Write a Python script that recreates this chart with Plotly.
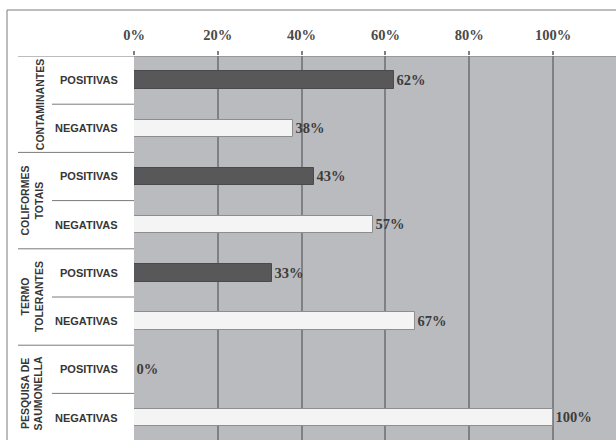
import plotly.graph_objects as go

# Data
groups = ["CONTAMINANTES", "COLIFORMES<br>TOTAIS", "TERMO<br>TOLERANTES", "PESQUISA DE<br>SAUMONELLA"]
results = ["POSITIVAS", "NEGATIVAS"]
values = [62, 38, 43, 57, 33, 67, 0, 100]
tick_values = [0, 20, 40, 60, 80, 100]
tick_labels = ["0%", "20%", "40%", "60%", "80%", "100%"]

W, H = 616, 440
PLOT_LEFT, PLOT_TOP = 134, 56
ROW_H = 48.2
n_rows = len(values)
rows = list(range(n_rows))
row_result = [results[i % 2] for i in rows]

DARK = "#58585a"
LIGHT = "#f4f4f4"
BG = "#babbbf"
GRID = "#7f8084"
TXT = "#363636"

px_per_pct = 4.19
x_max = (W - PLOT_LEFT) / px_per_pct
y_bottom = -0.5 + (H - PLOT_TOP) / ROW_H


def px(x):
    return x / W


def py(y):
    return 1 - y / H


fig = go.Figure()
fig.add_trace(go.Bar(
    x=values,
    y=rows,
    orientation="h",
    width=0.36,
    marker=dict(
        color=[DARK if r == "POSITIVAS" else LIGHT for r in row_result],
        line=dict(color=["#4a4a4c" if r == "POSITIVAS" else "#8e8e90" for r in row_result], width=1),
    ),
    text=[f"{v}%" for v in values],
    textposition="outside",
    cliponaxis=False,
    outsidetextfont=dict(family="Liberation Serif", size=14.5, color="#3c3c3c", weight="bold"),
    hoverinfo="skip",
))

fig.update_layout(
    width=W, height=H,
    margin=dict(l=0, r=0, t=0, b=0, autoexpand=False),
    paper_bgcolor="white",
    plot_bgcolor=BG,
    showlegend=False,
    bargap=0,
    xaxis=dict(
        domain=[px(PLOT_LEFT), 1],
        range=[0, x_max],
        side="top",
        automargin=False,
        tickvals=tick_values,
        ticktext=tick_labels,
        ticks="outside",
        ticklen=4,
        tickcolor=GRID,
        tickwidth=1.5,
        ticklabelstandoff=5,
        tickfont=dict(family="Liberation Serif", size=14.5, color="#4a4a4a", weight="bold"),
        showgrid=True,
        gridcolor=GRID,
        gridwidth=1.5,
        zeroline=False,
        showline=False,
        fixedrange=True,
    ),
    yaxis=dict(
        domain=[0, py(PLOT_TOP)],
        range=[y_bottom, -0.5],
        automargin=False,
        showticklabels=False,
        showgrid=False,
        zeroline=False,
        ticks="",
        fixedrange=True,
    ),
)

shapes = []
line_col = "#7a7a7a"
# outer frame (top and left)
shapes.append(dict(type="line", xref="paper", yref="paper", x0=px(7), x1=1, y0=py(10), y1=py(10),
                   line=dict(color=line_col, width=1)))
shapes.append(dict(type="line", xref="paper", yref="paper", x0=px(7), x1=px(7), y0=py(10), y1=0,
                   line=dict(color=line_col, width=1)))
# top edge of the table
shapes.append(dict(type="line", xref="paper", yref="y", x0=px(18), x1=1, y0=-0.5, y1=-0.5,
                   line=dict(color=line_col, width=1)))
# group separators
for g in range(1, len(groups)):
    yv = g * 2 - 0.5
    shapes.append(dict(type="line", xref="paper", yref="y", x0=px(18), x1=px(PLOT_LEFT), y0=yv, y1=yv,
                       line=dict(color=line_col, width=1)))
# row separators within each group
for g in range(len(groups)):
    yv = g * 2 + 0.5
    shapes.append(dict(type="line", xref="paper", yref="y", x0=px(52), x1=px(PLOT_LEFT), y0=yv, y1=yv,
                       line=dict(color=line_col, width=1)))
fig.update_layout(shapes=shapes)

annotations = []
for i in rows:
    annotations.append(dict(
        x=px(120), y=i, xref="paper", yref="y", xanchor="right", yanchor="middle",
        text=row_result[i], showarrow=False,
        font=dict(family="Liberation Sans", size=11, color=TXT, weight="bold"),
    ))
for g, name in enumerate(groups):
    x_center = 32 if "<br>" in name else 40
    annotations.append(dict(
        x=px(x_center), y=g * 2 + 0.5, xref="paper", yref="y", xanchor="center", yanchor="middle",
        text=name, showarrow=False, textangle=-90,
        font=dict(family="Liberation Sans", size=10.5, color=TXT, weight="bold"),
    ))
fig.update_layout(annotations=annotations)

fig.write_html("out.html")
